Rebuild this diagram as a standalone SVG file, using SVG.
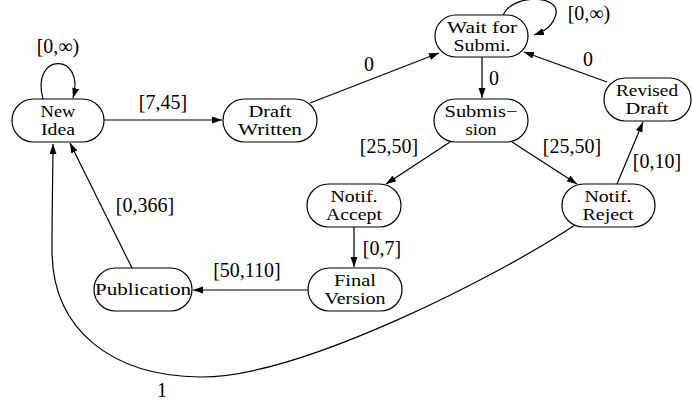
<svg xmlns="http://www.w3.org/2000/svg" width="692" height="403" viewBox="0 0 692 403">
<defs>
<marker id="arr" markerUnits="userSpaceOnUse" markerWidth="11" markerHeight="8" refX="10" refY="3.5" orient="auto">
<path d="M0,0 L10,3.5 L0,7 z" fill="#000"/>
</marker>
<style>
.node rect{fill:#fff;stroke:#000;stroke-width:1.2}
.node text{font-family:"Liberation Serif","Times New Roman",serif;font-size:16px;text-anchor:middle;fill:#000}
.edges path{fill:none;stroke:#000;stroke-width:1.2;marker-end:url(#arr)}
.lbl{font-family:"Liberation Serif","Times New Roman",serif;font-size:20px;text-anchor:middle;fill:#000}
</style>
</defs>
<rect width="692" height="403" fill="#fff"/>
<g id="edges" class="edges">
<path d="M43,99 C30,52 86,52 73,98"/>
<path d="M104,120 L222,120"/>
<path d="M310,103 L439,53"/>
<path d="M503,16 C510,-6 560,-6 556,14 C553,26 545,31 534,35"/>
<path d="M482,57 L482,98"/>
<path d="M607,82 L524,52"/>
<path d="M450,142 L386,184"/>
<path d="M512,142 L577,184"/>
<path d="M617,184 L643,122"/>
<path d="M354,227 L354,267"/>
<path d="M308,290 L193,290"/>
<path d="M132,268 L70,143"/>
<path d="M575,225 C500,275 300,378 200,377 C112,376 52,330 52,250 C52,200 53,170 53,144"/>
</g>
<g id="labels">
<text class="lbl" x="58" y="53">[0,∞)</text>
<text class="lbl" x="163" y="109">[7,45]</text>
<text class="lbl" x="369" y="71">0</text>
<text class="lbl" x="589" y="20">[0,∞)</text>
<text class="lbl" x="494" y="85">0</text>
<text class="lbl" x="588" y="66">0</text>
<text class="lbl" x="389" y="153">[25,50]</text>
<text class="lbl" x="572" y="153">[25,50]</text>
<text class="lbl" x="657" y="168">[0,10]</text>
<text class="lbl" x="382" y="255">[0,7]</text>
<text class="lbl" x="247" y="277">[50,110]</text>
<text class="lbl" x="145" y="212">[0,366]</text>
<text class="lbl" x="162" y="397">1</text>
</g>
<g id="new-idea" class="node"><rect x="12" y="99" width="92" height="43" rx="21.5"/><text x="58" y="117" textLength="35" lengthAdjust="spacingAndGlyphs">New</text><text x="58" y="135" textLength="34" lengthAdjust="spacingAndGlyphs">Idea</text></g>
<g id="draft-written" class="node"><rect x="223" y="99" width="94" height="43" rx="21.5"/><text x="270" y="117" textLength="43" lengthAdjust="spacingAndGlyphs">Draft</text><text x="270" y="135" textLength="64" lengthAdjust="spacingAndGlyphs">Written</text></g>
<g id="wait-for-submi" class="node"><rect x="435" y="15" width="93" height="42" rx="21"/><text x="482" y="33" textLength="70" lengthAdjust="spacingAndGlyphs">Wait for</text><text x="482" y="51" textLength="57" lengthAdjust="spacingAndGlyphs">Submi.</text></g>
<g id="submission" class="node"><rect x="434" y="99" width="94" height="43" rx="21.5"/><text x="481" y="117" textLength="73" lengthAdjust="spacingAndGlyphs">Submis−</text><text x="481" y="135" textLength="31" lengthAdjust="spacingAndGlyphs">sion</text></g>
<g id="revised-draft" class="node"><rect x="604" y="78" width="87" height="43" rx="21.5"/><text x="647" y="96" textLength="62" lengthAdjust="spacingAndGlyphs">Revised</text><text x="647" y="114" textLength="43" lengthAdjust="spacingAndGlyphs">Draft</text></g>
<g id="notif-accept" class="node"><rect x="307" y="184" width="94" height="43" rx="21.5"/><text x="354" y="202" textLength="47" lengthAdjust="spacingAndGlyphs">Notif.</text><text x="354" y="220" textLength="56" lengthAdjust="spacingAndGlyphs">Accept</text></g>
<g id="notif-reject" class="node"><rect x="562" y="184" width="93" height="43" rx="21.5"/><text x="608" y="202" textLength="47" lengthAdjust="spacingAndGlyphs">Notif.</text><text x="608" y="220" textLength="51" lengthAdjust="spacingAndGlyphs">Reject</text></g>
<g id="final-version" class="node"><rect x="308" y="268" width="94" height="43" rx="21.5"/><text x="355" y="286" textLength="42" lengthAdjust="spacingAndGlyphs">Final</text><text x="355" y="304" textLength="61" lengthAdjust="spacingAndGlyphs">Version</text></g>
<g id="publication" class="node"><rect x="94" y="268" width="98" height="43" rx="21.5"/><text x="143" y="295" textLength="96" lengthAdjust="spacingAndGlyphs">Publication</text></g>
</svg>
